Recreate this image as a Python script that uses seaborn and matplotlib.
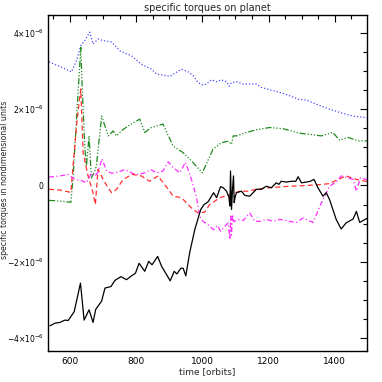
import numpy as np
import pandas as pd
import matplotlib
matplotlib.use("Agg")
import matplotlib.pyplot as plt
import seaborn as sns
from matplotlib.ticker import MultipleLocator, FixedLocator, FixedFormatter

# ---- data (time in orbits, torque in units of 1e-6) ----
t_black = [540, 555, 570, 585, 595, 613, 632, 643, 658, 670, 678, 696, 706, 724, 736, 754, 771, 786,
           798, 809, 826, 838, 848, 865, 877, 903, 915, 923, 935, 942, 950, 962, 977, 995, 1005, 1017,
           1034, 1043, 1055, 1063, 1073, 1080, 1083, 1085, 1088, 1091, 1094, 1096, 1099, 1103, 1118,
           1128, 1143, 1153, 1163, 1178, 1193, 1208, 1223, 1231, 1238, 1253, 1269, 1282, 1289, 1299,
           1314, 1326, 1337, 1349, 1364, 1374, 1384, 1404, 1419, 1434, 1455, 1465, 1475, 1493, 1500]
v_black = [-3.68, -3.61, -3.59, -3.53, -3.54, -3.31, -2.56, -3.53, -3.26, -3.59, -3.25, -3.03, -2.69,
           -2.65, -2.49, -2.39, -2.47, -2.37, -2.30, -2.04, -2.25, -1.99, -2.08, -1.86, -2.12, -2.50,
           -2.25, -2.32, -2.17, -2.17, -2.37, -1.75, -1.16, -0.63, -0.50, -0.43, -0.19, -0.32, -0.03,
           -0.06, -0.15, -0.30, -0.54, 0.38, -0.63, -0.10, 0.25, -0.45, -0.30, -0.19, -0.15, -0.26,
           -0.28, -0.19, -0.10, -0.10, -0.02, -0.06, 0.07, 0.03, 0.11, 0.09, 0.11, 0.11, 0.23, 0.07,
           0.09, 0.11, 0.16, -0.06, -0.28, -0.19, -0.37, -0.89, -1.14, -0.98, -0.88, -0.68, -0.97,
           -0.88, -0.85]

t_blue = [537, 570, 605, 620, 633, 645, 660, 670, 685, 700, 726, 751, 786, 816, 846, 862, 902, 937,
          957, 972, 987, 1002, 1012, 1027, 1043, 1057, 1073, 1081, 1088, 1103, 1123, 1163, 1178, 1234,
          1264, 1289, 1314, 1344, 1384, 1424, 1455, 1493, 1500]
v_blue = [3.24, 3.12, 2.98, 3.27, 3.67, 3.80, 4.02, 3.71, 3.84, 3.80, 3.76, 3.53, 3.40, 3.18, 3.05,
          2.92, 2.86, 3.05, 2.98, 2.88, 2.70, 2.63, 2.66, 2.77, 2.72, 2.77, 2.72, 2.60, 2.70, 2.72,
          2.66, 2.66, 2.57, 2.44, 2.35, 2.26, 2.24, 2.13, 2.00, 1.89, 1.82, 1.78, 1.77]

t_green = [537, 570, 603, 610, 620, 633, 637, 645, 650, 658, 665, 673, 680, 696, 716, 731, 741, 761,
           788, 811, 826, 846, 862, 881, 912, 942, 972, 1000, 1032, 1057, 1078, 1088, 1093, 1103,
           1133, 1163, 1203, 1243, 1294, 1324, 1359, 1394, 1414, 1440, 1470, 1493, 1500]
v_green = [-0.39, -0.41, -0.44, 0.25, 1.74, 3.62, 2.61, 1.03, 0.51, 1.30, 0.20, 0.33, 0.51, 1.82,
           1.30, 1.43, 1.30, 1.47, 1.63, 1.74, 1.39, 1.52, 1.56, 1.61, 1.03, 0.86, 0.60, 0.33, 0.95,
           1.12, 1.16, 1.08, 1.30, 1.30, 1.39, 1.46, 1.52, 1.49, 1.37, 1.34, 1.30, 1.39, 1.19, 1.26,
           1.17, 1.17, 1.17]

t_red = [537, 570, 603, 613, 622, 633, 640, 655, 670, 677, 685, 706, 726, 741, 761, 788, 816, 841,
         866, 897, 912, 937, 967, 987, 1007, 1022, 1053, 1083, 1113, 1138, 1163, 1203, 1264, 1314,
         1364, 1384, 1410, 1434, 1465, 1493, 1500]
v_red = [-0.10, -0.12, -0.18, 0.86, 1.74, 2.53, 0.86, 0.25, -0.19, -0.50, 0.42, 0.07, -0.19, -0.10,
         0.16, 0.29, 0.25, 0.11, 0.25, -0.10, -0.28, -0.32, -0.59, -0.72, -0.70, -0.50, -0.32, -0.24,
         -0.15, -0.15, -0.10, -0.06, -0.02, 0.00, 0.03, 0.05, 0.16, 0.25, 0.16, 0.11, 0.11]

t_mag = [537, 570, 595, 615, 635, 650, 665, 676, 685, 697, 711, 726, 746, 766, 788, 806, 826, 844,
         862, 881, 897, 912, 932, 949, 967, 982, 992, 1002, 1017, 1034, 1045, 1055, 1065, 1078, 1083,
         1086, 1088, 1091, 1095, 1108, 1123, 1143, 1158, 1173, 1193, 1213, 1234, 1264, 1284, 1304,
         1334, 1359, 1369, 1384, 1404, 1419, 1455, 1465, 1477, 1493, 1500]
v_mag = [0.22, 0.25, 0.29, 0.16, 0.13, 0.07, 0.33, 0.25, 0.35, 0.70, 0.38, 0.32, 0.35, 0.42, 0.32,
         0.29, 0.33, 0.42, 0.33, 0.38, 0.62, 0.47, 0.33, 0.61, 0.16, -0.30, -0.81, -0.94, -1.03, -1.16,
         -1.05, -1.20, -1.10, -0.98, -1.42, -0.80, -1.30, -0.76, -0.95, -0.89, -0.92, -0.72, -0.94,
         -0.94, -0.89, -0.94, -0.89, -0.94, -0.97, -0.85, -0.97, -0.46, -0.28, -0.02, 0.09, 0.25, 0.16,
         -0.15, 0.20, 0.16, 0.16]

y_ticks = [-4, -2, 0, 2, 4]
y_tick_labels = [r'$-4{\times}10^{-6}$', r'$-2{\times}10^{-6}$', '0', r'$2{\times}10^{-6}$', r'$4{\times}10^{-6}$']
x_ticks = [600, 800, 1000, 1200, 1400]

title = "specific torques on planet"
xlabel = "time [orbits]"
ylabel = "specific torques in nondimensional units"

# ---- plot ----
sns.set_style("white")
plt.rcParams['font.family'] = ['DejaVu Sans']
plt.rcParams['mathtext.fontset'] = 'dejavusans'

fig = plt.figure(figsize=(3.82, 3.82), dpi=100)
ax = fig.add_axes([48/382, 1-351/382, (367-48)/382, (351-15)/382])

lw = 0.9
series = [
    (t_blue, v_blue, "#4a4aff", (0, (1, 1.6))),
    (t_green, v_green, "#1f8a1f", (0, (5, 1.5, 1, 1.5, 1, 1.5, 1, 1.5))),
    (t_red, v_red, "#ff3030", (0, (4, 2.5))),
    (t_mag, v_mag, "#ff2bff", (0, (4, 2, 1, 2))),
    (t_black, v_black, "black", "-"),
]
for tx, vy, col, ls in series:
    df = pd.DataFrame({"t": tx, "v": np.array(vy) * 1e-6})
    sns.lineplot(data=df, x="t", y="v", ax=ax, color=col, linewidth=lw, linestyle=ls,
                 estimator=None, sort=False)

ax.set_xlim(534, 1497)
ax.set_ylim(-4.34e-6, 4.47e-6)

ax.xaxis.set_major_locator(FixedLocator(x_ticks))
ax.xaxis.set_minor_locator(MultipleLocator(50))
ax.yaxis.set_major_locator(FixedLocator([v * 1e-6 for v in y_ticks]))
ax.yaxis.set_major_formatter(FixedFormatter(y_tick_labels))
ax.yaxis.set_minor_locator(MultipleLocator(0.5e-6))

ax.tick_params(which='both', direction='in', top=True, right=True, width=0.8,
               colors='black')
ax.tick_params(axis='x', labelsize=6.5, pad=4)
ax.tick_params(axis='y', labelsize=5.5, pad=3)
ax.tick_params(which='major', length=5)
ax.tick_params(which='minor', length=3)
for s in ax.spines.values():
    s.set_linewidth(1.0)
    s.set_color('black')

ax.set_title(title, fontsize=7, pad=3)
ax.set_xlabel(xlabel, fontsize=6.5, labelpad=1)
ax.set_ylabel(ylabel, fontsize=5.6, labelpad=0)
ax.yaxis.set_label_coords(-0.122, 0.51)

fig.savefig("out.png", dpi=100)
